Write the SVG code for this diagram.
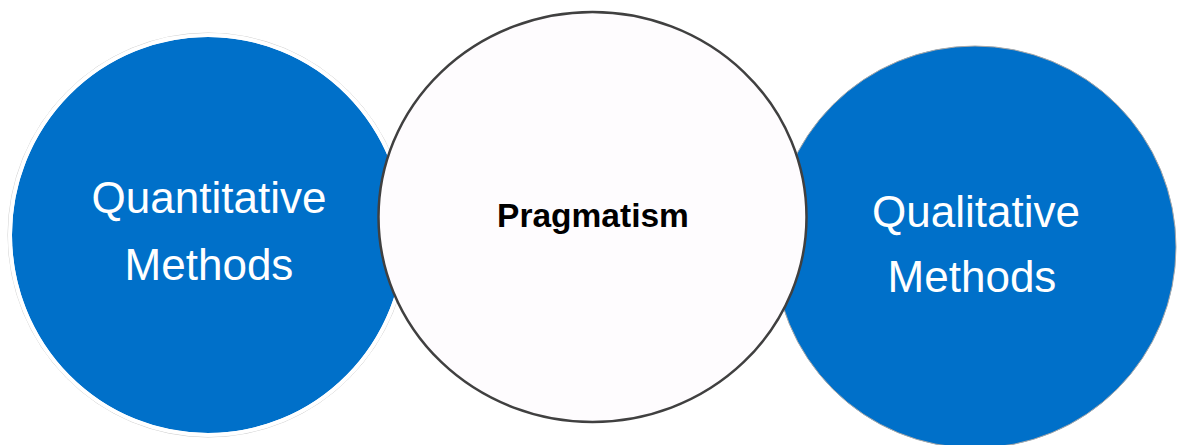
<svg xmlns="http://www.w3.org/2000/svg" width="1187" height="445" viewBox="0 0 1187 445">
  <style>
    .blue { fill: #0070c9; }
    .ring { fill: none; stroke: #ffffff; stroke-width: 4; }
    .halo { fill: none; stroke: #d0d0d0; stroke-width: 1; }
    .side-label { font-family: "Liberation Sans", Arial, sans-serif; font-size: 44px; fill: #ffffff; text-anchor: middle; }
    .center-label { font-family: "Liberation Sans", Arial, sans-serif; font-size: 33.5px; font-weight: bold; fill: #000000; text-anchor: middle; }
  </style>
  <rect width="1187" height="445" fill="#ffffff"/>

  <g id="quantitative">
    <ellipse cx="208" cy="235" rx="200" ry="202" class="halo"/>
    <ellipse cx="208" cy="235" rx="196" ry="198" class="blue"/>
    <ellipse cx="208" cy="235" rx="198" ry="200" class="ring"/>
    <text class="side-label" x="209" y="213">Quantitative</text>
    <text class="side-label" x="209" y="280">Methods</text>
  </g>

  <g id="qualitative">
    <circle cx="975" cy="247" r="201" class="blue" stroke="#a8a8a8" stroke-width="1"/>
    <text class="side-label" x="976" y="227">Qualitative</text>
    <text class="side-label" x="972" y="292">Methods</text>
  </g>

  <g id="pragmatism">
    <ellipse cx="592.5" cy="217" rx="214" ry="205" fill="#fefcfe" stroke="#404040" stroke-width="2.5"/>
    <text class="center-label" x="593" y="227">Pragmatism</text>
  </g>

  <g id="connectors"/>
</svg>
